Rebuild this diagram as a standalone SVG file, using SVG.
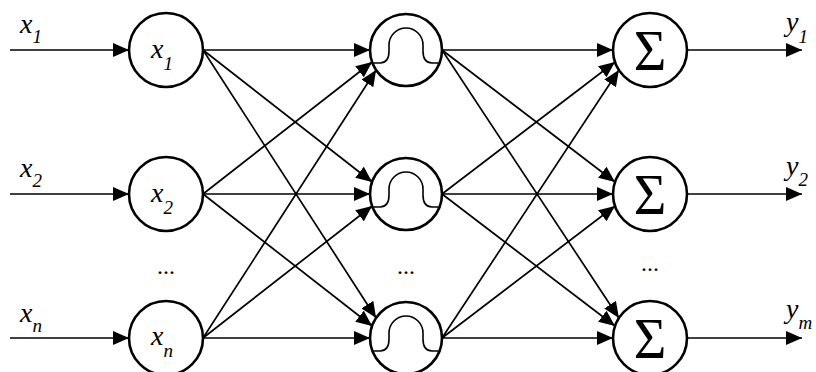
<svg xmlns="http://www.w3.org/2000/svg" width="816" height="372" viewBox="0 0 816 372">
<defs>
<marker id="ah" markerUnits="userSpaceOnUse" markerWidth="16" markerHeight="14" refX="16" refY="7" orient="auto">
<path d="M0,0 L16,7 L0,14 z" fill="#000"/>
</marker>
<path id="bell" d="M-33.5,13 L-26,13 C-19,13 -17,8 -17,1 L-17,-5 A17,17 0 0 1 17,-5 L17,1 C17,8 19,13 26,13 L33.5,13" fill="none" stroke="#000" stroke-width="1.6"/>
</defs>
<style>
.c{fill:#fff;stroke:#000;stroke-width:2.6}
.l{stroke:#000;stroke-width:1.7;fill:none;marker-end:url(#ah)}
.t{font-style:italic;font-size:28px}
.s{font-size:19px}
.sg{font-size:56px;text-anchor:middle}
.d{font-size:24px;text-anchor:middle}
</style>
<rect width="816" height="372" fill="#fff"/>
<g id="connectors">
<line class="l" x1="10" y1="50" x2="129" y2="50"/>
<line class="l" x1="10" y1="194" x2="129" y2="194"/>
<line class="l" x1="10" y1="338" x2="129" y2="338"/>
<line class="l" x1="203" y1="50" x2="370" y2="50"/>
<line class="l" x1="203" y1="50" x2="372.1" y2="182"/>
<line class="l" x1="203" y1="50" x2="376.1" y2="318"/>
<line class="l" x1="203" y1="194" x2="372.1" y2="62"/>
<line class="l" x1="203" y1="194" x2="370" y2="194"/>
<line class="l" x1="203" y1="194" x2="372.1" y2="326"/>
<line class="l" x1="203" y1="338" x2="376.1" y2="70"/>
<line class="l" x1="203" y1="338" x2="372.1" y2="206"/>
<line class="l" x1="203" y1="338" x2="370" y2="338"/>
<line class="l" x1="442" y1="50" x2="613" y2="50"/>
<line class="l" x1="442" y1="50" x2="615" y2="182"/>
<line class="l" x1="442" y1="50" x2="618.9" y2="318"/>
<line class="l" x1="442" y1="194" x2="615" y2="62"/>
<line class="l" x1="442" y1="194" x2="613" y2="194"/>
<line class="l" x1="442" y1="194" x2="615" y2="326"/>
<line class="l" x1="442" y1="338" x2="618.9" y2="70"/>
<line class="l" x1="442" y1="338" x2="615" y2="206"/>
<line class="l" x1="442" y1="338" x2="613" y2="338"/>
<line class="l" x1="687" y1="50" x2="802" y2="50"/>
<line class="l" x1="687" y1="194" x2="802" y2="194"/>
<line class="l" x1="687" y1="338" x2="802" y2="338"/>
</g>
<g font-family="Liberation Serif, DejaVu Serif, serif" fill="#000">
<g id="labels">
<text class="t" x="20" y="33">x<tspan class="s" dy="10">1</tspan></text>
<text class="t" x="20" y="177">x<tspan class="s" dy="10">2</tspan></text>
<text class="t" x="20" y="322">x<tspan class="s" dy="10">n</tspan></text>
<text class="t" x="786" y="31">y<tspan class="s" dy="12">1</tspan></text>
<text class="t" x="786" y="175">y<tspan class="s" dy="11">2</tspan></text>
<text class="t" x="786" y="318">y<tspan class="s" dy="11">m</tspan></text>
<text class="d" x="166" y="274">...</text>
<text class="d" x="406" y="274">...</text>
<text class="d" x="650" y="271">...</text>
</g>
<g id="in1"><circle class="c" cx="166" cy="50" r="37"/><text class="t" x="151" y="58">x<tspan class="s" dy="12">1</tspan></text></g>
<g id="in2"><circle class="c" cx="166" cy="194" r="37"/><text class="t" x="151" y="202">x<tspan class="s" dy="12">2</tspan></text></g>
<g id="inn"><circle class="c" cx="166" cy="338" r="37"/><text class="t" x="151" y="345">x<tspan class="s" dy="12">n</tspan></text></g>
<g id="h1"><circle class="c" cx="406" cy="50" r="36"/><use href="#bell" x="406" y="50"/></g>
<g id="h2"><circle class="c" cx="406" cy="194" r="36"/><use href="#bell" x="406" y="194"/></g>
<g id="h3"><circle class="c" cx="406" cy="338" r="36"/><use href="#bell" x="406" y="338"/></g>
<g id="o1"><circle class="c" cx="650" cy="50" r="37"/><text class="sg" x="650" y="70">Σ</text></g>
<g id="o2"><circle class="c" cx="650" cy="194" r="37"/><text class="sg" x="650" y="214">Σ</text></g>
<g id="o3"><circle class="c" cx="650" cy="338" r="37"/><text class="sg" x="650" y="358">Σ</text></g>
</g>
</svg>
